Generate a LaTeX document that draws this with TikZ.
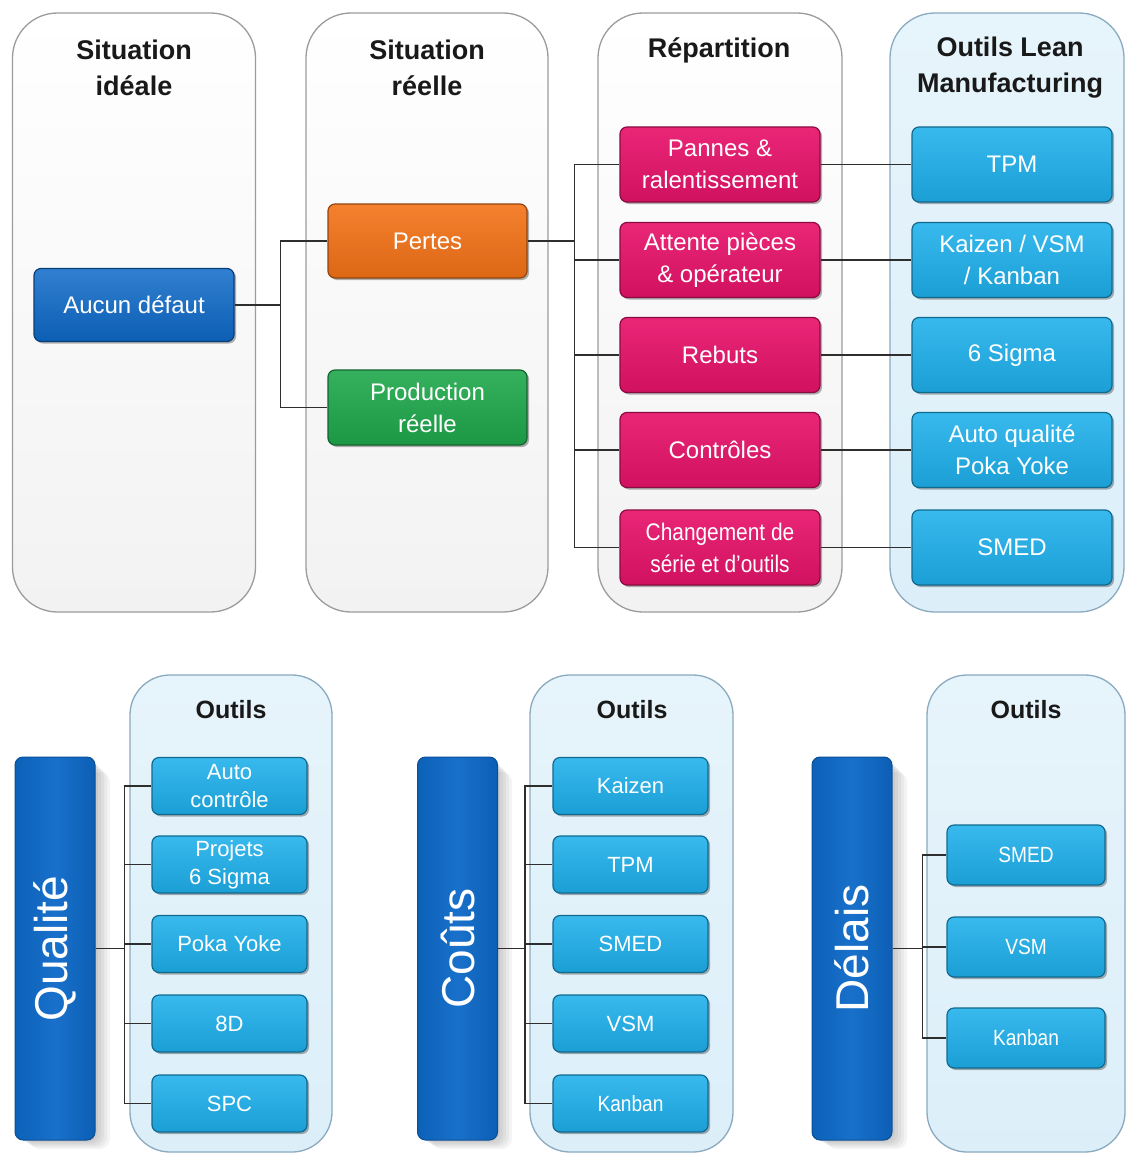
\documentclass[tikz,border=0pt]{standalone}
\usepackage{fontspec}
\setmainfont{Liberation Sans}
\usepackage{graphicx}
\usetikzlibrary{shadows}

\definecolor{panelfill}{HTML}{F2F2F2}
\definecolor{panelline}{HTML}{9C9C9C}
\definecolor{bluefill}{HTML}{DCEFF9}
\definecolor{blueline}{HTML}{8AAAC0}
\definecolor{deepblue}{HTML}{0D69C8}
\definecolor{orangebox}{HTML}{F47318}
\definecolor{greenbox}{HTML}{1FA84C}
\definecolor{pinkbox}{HTML}{E8136B}
\definecolor{cyanbox}{HTML}{1DB0EC}
\definecolor{wire}{HTML}{2E2E2E}

\tikzset{
  greypanel/.style={rounded corners=45pt, line width=1.3pt, draw=panelline,
    top color=white, bottom color=panelfill},
  bluepanel/.style={rounded corners=40pt, line width=1.3pt, draw=blueline,
    top color=bluefill!70!white, bottom color=bluefill},
  header/.style={align=center, text=black!90,
    font=\bfseries\fontsize{27}{36}\selectfont},
  box/.style={rounded corners=7pt, line width=1.2pt, text=white, align=center,
    inner sep=2pt, font=\fontsize{24}{32}\selectfont,
    drop shadow={shadow xshift=2pt, shadow yshift=-2pt, opacity=0.3, fill=black}},
  smallbox/.style={box, font=\fontsize{22}{28}\selectfont},
  bluebox/.style={box, top color=deepblue!85!white, bottom color=deepblue!90!black, draw=deepblue!60!black},
  orangestep/.style={box, top color=orangebox!90!white, bottom color=orangebox!90!black, draw=orangebox!60!black},
  greenstep/.style={box, top color=greenbox!90!white, bottom color=greenbox!90!black, draw=greenbox!60!black},
  pinkstep/.style={box, top color=pinkbox!92!white, bottom color=pinkbox!90!black, draw=pinkbox!60!black},
  cyanstep/.style={box, top color=cyanbox!88!white, bottom color=cyanbox!90!black, draw=cyanbox!60!black},
  cyansmall/.style={smallbox, top color=cyanbox!88!white, bottom color=cyanbox!90!black, draw=cyanbox!60!black},
  bar/.style={rounded corners=8pt, line width=1pt, draw=deepblue!75!black,
    left color=deepblue!92!black, right color=deepblue!90!black, middle color=deepblue!95!white,
    minimum width=80pt, minimum height=383pt},
  barlabel/.style={rotate=90, text=white, font=\fontsize{46}{50}\selectfont},
  wire/.style={draw=wire, line width=1.1pt},
}

\newcommand{\narrow}[1]{\scalebox{0.87}[1]{#1}}

\begin{document}
\begin{tikzpicture}[x=1pt, y=-1pt]
\useasboundingbox (0,0) rectangle (1126,1153);
\fill[white] (0,0) rectangle (1126,1153);

% ---------- upper diagram: columns ----------
\node[greypanel, minimum width=243pt, minimum height=599pt] (colA) at (134,312.5) {};
\node[greypanel, minimum width=242pt, minimum height=599pt] (colB) at (427,312.5) {};
\node[greypanel, minimum width=244pt, minimum height=599pt] (colC) at (720,312.5) {};
\node[bluepanel, rounded corners=45pt, minimum width=234pt, minimum height=599pt] (colD) at (1007,312.5) {};

\node[header] (hA) at (134,68) {Situation\\idéale};
\node[header] (hB) at (427,68) {Situation\\réelle};
\node[header] (hC) at (719,50) {Répartition};
\node[header] (hD) at (1010,68) {Outils Lean\\Manufacturing};

% ---------- upper diagram: boxes ----------
\node[bluebox, minimum width=200pt, minimum height=73pt] (aucun) at (134,305) {Aucun défaut};
\node[orangestep, minimum width=199pt, minimum height=74pt] (pertes) at (427.5,241) {Pertes};
\node[greenstep, minimum width=199pt, minimum height=75pt] (prod) at (427.5,407.5) {Production\\réelle};

\foreach \n/\y/\t in {r1/164.5/{Pannes \&\\ralentissement},
                      r2/260/{Attente pièces\\\& opérateur},
                      r3/355/{Rebuts},
                      r4/450/{Contrôles},
                      r5/547.5/{\narrow{Changement de}\\\narrow{série et d'outils}}}
  \node[pinkstep, minimum width=200pt, minimum height=75pt] (\n) at (720,\y) {\t};

\foreach \n/\y/\t in {l1/164.5/{TPM},
                      l2/260/{Kaizen / VSM\\/ Kanban},
                      l3/355/{6 Sigma},
                      l4/450/{Auto qualité\\Poka Yoke},
                      l5/547.5/{SMED}}
  \node[cyanstep, minimum width=200pt, minimum height=75pt] (\n) at (1012,\y) {\t};

% ---------- upper diagram: connectors ----------
\draw[wire] (aucun.east) -- ++(46,0) |- (pertes.west);
\draw[wire] (aucun.east) -- ++(46,0) |- (prod.west);
\foreach \n in {r1,r2,r3,r4,r5}
  \draw[wire] (pertes.east) -- ++(47,0) |- (\n.west);
\foreach \i in {1,...,5}
  \draw[wire] (r\i.east) -- (l\i.west);

% ---------- lower diagrams: tool panels ----------
\node[bluepanel, minimum width=202pt, minimum height=477pt] (pQ) at (231,913.5) {};
\node[bluepanel, minimum width=203pt, minimum height=477pt] (pC) at (631.5,913.5) {};
\node[bluepanel, minimum width=198pt, minimum height=477pt] (pD) at (1026,913.5) {};

\node[header, font=\bfseries\fontsize{25}{30}\selectfont] (hQ) at (231,710) {Outils};
\node[header, font=\bfseries\fontsize{25}{30}\selectfont] (hCo) at (632,710) {Outils};
\node[header, font=\bfseries\fontsize{25}{30}\selectfont] (hDe) at (1026,710) {Outils};

% soft shadows behind the vertical bars
\foreach \x in {15,417,812}
  \foreach \d in {3,6,9,12,15}
    \fill[black, opacity=0.045, rounded corners=10pt]
      (\x+\d,757+\d) rectangle (\x+80+\d,1140+0.6*\d);

% ---------- lower diagrams: bars ----------
\node[bar] (bQ) at (55,948.5) {};
\node[bar] (bC) at (457.5,948.5) {};
\node[bar] (bD) at (852,948.5) {};
\node[barlabel] (tQ) at (bQ.center) {Qualité};
\node[barlabel] (tC) at (bC.center) {Coûts};
\node[barlabel] (tD) at (bD.center) {Délais};

% ---------- lower diagrams: tool boxes ----------
\foreach \n/\y/\t in {q1/786/{Auto\\contrôle},
                      q2/864.5/{Projets\\6 Sigma},
                      q3/944/{Poka Yoke},
                      q4/1023.5/{8D},
                      q5/1103.5/{SPC}}
  \node[cyansmall, minimum width=155pt, minimum height=57pt] (\n) at (229.5,\y) {\t};

\foreach \n/\y/\t in {c1/786/{Kaizen},
                      c2/864.5/{TPM},
                      c3/944/{SMED},
                      c4/1023.5/{VSM},
                      c5/1103.5/{\narrow{Kanban}}}
  \node[cyansmall, minimum width=155pt, minimum height=57pt] (\n) at (630.5,\y) {\t};

\foreach \n/\y/\t in {d1/855/{\narrow{SMED}},
                      d2/947/{\narrow{VSM}},
                      d3/1038/{\narrow{Kanban}}}
  \node[cyansmall, minimum width=158pt, minimum height=60pt] (\n) at (1026,\y) {\t};

% ---------- lower diagrams: connectors ----------
\foreach \n in {q1,q2,q3,q4,q5}
  \draw[wire] (bQ.east) -- ++(29,0) |- (\n.west);
\foreach \n in {c1,c2,c3,c4,c5}
  \draw[wire] (bC.east) -- ++(27,0) |- (\n.west);
\foreach \n in {d1,d2,d3}
  \draw[wire] (bD.east) -- ++(30,0) |- (\n.west);

\end{tikzpicture}
\end{document}
